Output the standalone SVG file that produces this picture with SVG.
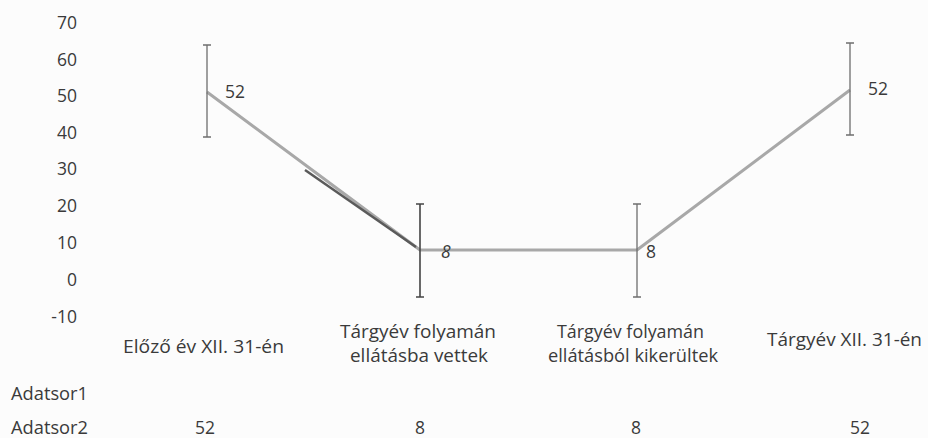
<svg xmlns="http://www.w3.org/2000/svg" width="928" height="438" viewBox="0 0 928 438">
<style>
text{font-family:"Open Sans","Liberation Sans",sans-serif;font-size:17.5px;fill:#3a3a3a}
.ax{text-anchor:end}
.c{text-anchor:middle}
.eb{stroke:#6e6e6e;stroke-width:1.3;fill:none}
.ln{stroke:#a8a8a8;stroke-width:3;fill:none;stroke-linejoin:round}
</style>
<rect width="928" height="438" fill="#fcfcfc"/>
<g id="yaxis">
<text class="ax" x="77" y="29">70</text>
<text class="ax" x="77" y="66">60</text>
<text class="ax" x="77" y="102">50</text>
<text class="ax" x="77" y="139">40</text>
<text class="ax" x="77" y="175">30</text>
<text class="ax" x="77" y="212">20</text>
<text class="ax" x="77" y="249">10</text>
<text class="ax" x="77" y="286">0</text>
<text class="ax" x="77" y="323">-10</text>
</g>
<g id="series">
<polyline class="ln" points="207,92 420,250 637,250 850,90"/>
<line x1="305" y1="170" x2="416" y2="247" stroke="#5a5a5a" stroke-width="2.5"/>
</g>
<g id="errorbars">
<path class="eb" d="M207,45V137M203,45h8M203,137h8"/>
<path class="eb" d="M420,204V297M416,204h8M416,297h8" style="stroke:#444;stroke-width:1.6"/>
<path class="eb" d="M637,204V297M633,204h8M633,297h8"/>
<path class="eb" d="M850,43V135M846,43h8M846,135h8"/>
</g>
<g id="datalabels">
<text x="225" y="98">52</text>
<text x="441" y="258" style="font-style:italic">8</text>
<text x="646" y="258">8</text>
<text x="868" y="95">52</text>
</g>
<g id="categories">
<text x="123" y="353" textLength="161" lengthAdjust="spacingAndGlyphs">Előző év XII. 31-én</text>
<text x="340" y="338" textLength="156" lengthAdjust="spacingAndGlyphs">Tárgyév folyamán</text>
<text x="350" y="362" textLength="138" lengthAdjust="spacingAndGlyphs">ellátásba vettek</text>
<text x="557" y="338" textLength="147" lengthAdjust="spacingAndGlyphs">Tárgyév folyamán</text>
<text x="548" y="362" textLength="170" lengthAdjust="spacingAndGlyphs">ellátásból kikerültek</text>
<text x="767" y="346" textLength="155" lengthAdjust="spacingAndGlyphs">Tárgyév XII. 31-én</text>
</g>
<g id="table">
<text x="11" y="400" textLength="77" lengthAdjust="spacingAndGlyphs">Adatsor1</text>
<text x="11" y="434" textLength="77" lengthAdjust="spacingAndGlyphs">Adatsor2</text>
<text class="c" x="205" y="434">52</text>
<text class="c" x="420" y="434">8</text>
<text class="c" x="636" y="434">8</text>
<text class="c" x="860" y="434">52</text>
</g>
</svg>
